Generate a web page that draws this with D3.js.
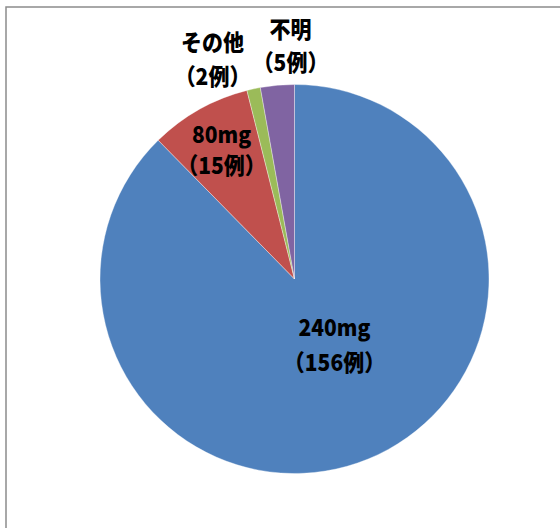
<!DOCTYPE html>
<html>
<head>
<meta charset="utf-8">
<script src="https://cdn.jsdelivr.net/npm/d3@7"></script>
<style>
  html, body { margin: 0; padding: 0; background: #fff; }
  svg { display: block; }
</style>
</head>
<body>
<svg id="chart" width="560" height="528"></svg>
<script>
// Dose breakdown (number of cases)
const categories = ["240mg", "80mg", "その他", "不明"];
const caseCounts = [156, 15, 2, 5];
const caseLabels = ["（156例）", "（15例）", "（2例）", "（5例）"];
const sliceColors = ["#4F81BD", "#C0504D", "#9BBB59", "#8064A2"];

const svg = d3.select("#chart");
const W = 560, H = 528;

// chart frame (top and left edges visible)
svg.append("rect")
  .attr("x", 6).attr("y", 7)
  .attr("width", W + 10).attr("height", H + 10)
  .attr("fill", "#fff")
  .attr("stroke", "#8c8c8c")
  .attr("stroke-width", 1.5);

const cx = 294.5, cy = 279, r = 194.5;

const data = categories.map((c, i) => ({ cat: c, n: caseCounts[i], lbl: caseLabels[i], color: sliceColors[i] }));

const pie = d3.pie().value(d => d.n).sort(null);
const arc = d3.arc().innerRadius(0).outerRadius(r);
const arcs = pie(data);

const g = svg.append("g").attr("transform", `translate(${cx},${cy})`);

g.selectAll("path.slice")
  .data(arcs)
  .join("path")
  .attr("class", "slice")
  .attr("d", arc)
  .attr("fill", d => d.data.color)
  .attr("stroke", "#fff")
  .attr("stroke-width", 0.6)
  .attr("stroke-opacity", 0.6);

// label anchors relative to the pie centre (the two thin slices are labelled above the pie)
const labelPos = [[40, 66], [-73, -129], [-82, -219], [-4, -233]];
const lineGap = [35, 31, 34, 33];

const labels = g.selectAll("g.label")
  .data(arcs)
  .join("g")
  .attr("class", "label")
  .attr("transform", (d, i) => `translate(${labelPos[i][0]},${labelPos[i][1]})`);

// slightly tall, heavy gothic lettering
const fontSpec = sel => sel
  .attr("text-anchor", "middle")
  .attr("dy", "0.36em")
  .style("font-family", "'Noto Sans CJK JP', sans-serif")
  .style("font-weight", "900")
  .style("font-size", "21px")
  .attr("fill", "#000");

labels.append("g")
  .attr("transform", (d, i) => `translate(0,${-lineGap[i] / 2}) scale(1,1.1)`)
  .append("text")
  .call(fontSpec)
  .text(d => d.data.cat);

labels.append("g")
  .attr("transform", (d, i) => `translate(0,${lineGap[i] / 2}) scale(1,1.1)`)
  .append("text")
  .call(fontSpec)
  .text(d => d.data.lbl);
</script>
</body>
</html>
